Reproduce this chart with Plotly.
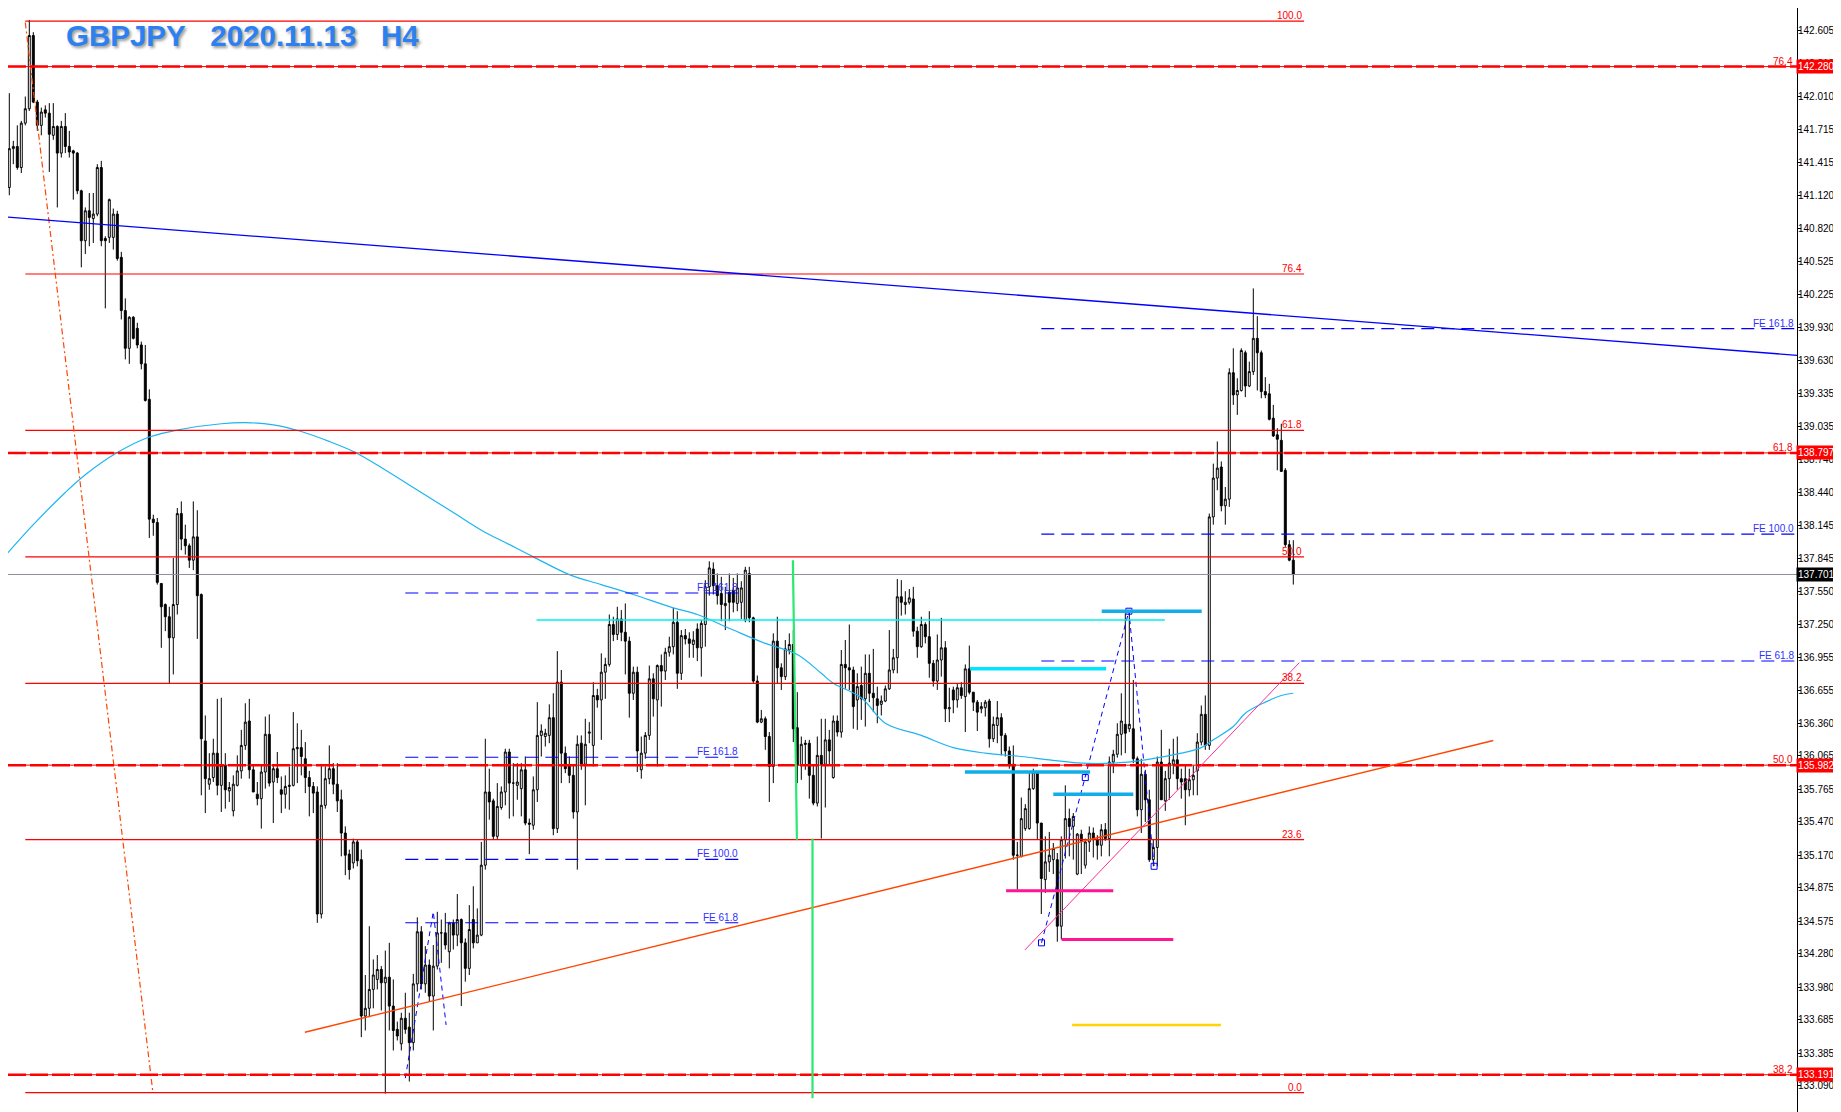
import plotly.graph_objects as go

# H4 bars, oldest -> newest
opens = [
    140.93, 140.96, 141.19, 141.54, 141.56, 141.37, 141.77, 141.90, 142.56, 141.96,
    141.75, 141.89, 141.86, 141.66, 141.74, 141.50, 141.74, 141.56, 141.52, 141.50,
    141.16, 140.71, 140.98, 140.91, 140.95, 141.37, 140.73, 140.74, 140.74, 140.95,
    140.56, 140.08, 139.74, 140.02, 139.92, 139.77, 139.60, 139.28, 138.20, 138.17,
    137.62, 137.43, 137.32, 137.13, 137.43, 138.25, 138.02, 137.96, 137.83, 138.04,
    137.52, 136.20, 135.81, 135.87, 136.09, 135.80, 135.98, 135.75, 135.57, 135.80,
    135.93, 136.16, 136.38, 135.94, 135.72, 135.68, 135.92, 136.26, 135.83, 135.95,
    135.76, 135.72, 135.79, 135.80, 136.13, 136.14, 136.04, 135.87, 135.79, 135.74,
    134.64, 135.62, 135.86, 135.95, 135.81, 135.67, 135.37, 135.18, 135.10, 135.29,
    135.13, 133.72, 133.79, 133.96, 134.05, 134.14, 134.02, 134.07, 133.81, 133.60,
    133.47, 133.70, 133.62, 133.48, 134.01, 134.48, 134.01, 134.18, 133.90, 134.17,
    134.47, 134.47, 134.30, 134.56, 134.45, 134.59, 134.38, 134.15, 134.59, 134.38,
    134.45, 135.08, 135.74, 135.66, 135.34, 135.60, 135.74, 136.10, 135.82, 135.80,
    135.77, 135.94, 135.46, 135.44, 135.76, 136.25, 136.24, 136.25, 136.41, 135.41,
    136.73, 136.09, 135.98, 135.89, 135.56, 136.18, 135.99, 136.27, 136.16, 136.61,
    136.57, 136.82, 136.89, 137.25, 137.16, 137.30, 137.18, 137.10, 136.63, 136.82,
    135.94, 136.09, 136.25, 136.76, 136.57, 136.88, 136.83, 137.00, 137.05, 137.27,
    136.81, 137.15, 137.12, 137.07, 137.21, 137.04, 137.25, 137.59, 137.75, 137.60,
    137.53, 137.42, 137.54, 137.56, 137.44, 137.45, 137.29, 137.71, 137.31, 136.74,
    136.37, 136.40, 136.24, 135.97, 137.10, 136.86, 136.78, 137.02, 137.07, 136.32,
    135.98, 136.18, 136.18, 135.89, 135.64, 136.07, 135.99, 136.21, 135.87, 136.38,
    136.28, 136.89, 136.86, 136.84, 136.57, 136.70, 136.58, 136.81, 136.63, 136.58,
    136.53, 136.56, 136.67, 136.84, 136.95, 137.50, 137.43, 137.45, 137.48, 137.19,
    137.05, 137.25, 137.14, 136.90, 136.74, 136.93, 137.04, 136.49, 136.66, 136.57,
    136.68, 136.60, 136.85, 136.64, 136.55, 136.49, 136.50, 136.56, 136.22, 136.34,
    136.41, 136.25, 136.11, 135.99, 135.17, 135.16, 135.41, 135.41, 135.77, 135.92,
    135.46, 134.95, 135.11, 135.13, 135.13, 134.53, 135.31, 135.50, 135.43, 135.00,
    135.36, 135.08, 135.29, 135.37, 135.31, 135.26, 135.40, 135.32, 136.01, 136.08,
    136.26, 136.35, 136.31, 136.31, 136.04, 135.58, 135.90, 135.67, 135.13, 135.24,
    136.01, 135.66, 135.86, 135.99, 136.03, 135.86, 135.86, 135.76, 135.85, 135.93,
    136.19, 136.44, 136.16, 138.22, 138.57, 138.67, 138.32, 138.38, 139.52, 139.32,
    139.36, 139.70, 139.40, 139.53, 139.83, 139.70, 139.35, 139.33, 139.11, 138.96,
    138.91, 138.64, 137.97, 137.83,
]
highs = [
    141.03, 141.30, 142.04, 141.61, 141.75, 141.79, 142.01, 142.70, 142.59, 141.98,
    141.91, 141.93, 141.95, 141.95, 141.75, 141.79, 141.86, 141.70, 141.53, 141.51,
    141.17, 141.01, 141.14, 141.14, 141.40, 141.43, 140.75, 141.09, 141.00, 140.98,
    140.61, 140.19, 140.03, 140.03, 139.97, 139.80, 139.77, 139.37, 138.24, 138.21,
    137.62, 137.44, 137.41, 137.85, 138.30, 138.36, 138.15, 137.98, 138.36, 138.28,
    137.53, 136.43, 136.09, 136.22, 136.58, 136.59, 136.09, 135.83, 135.89, 136.07,
    136.30, 136.54, 136.58, 135.98, 135.83, 135.98, 136.42, 136.44, 135.98, 136.10,
    135.88, 135.89, 135.97, 136.46, 136.36, 136.30, 136.19, 135.93, 135.83, 135.79,
    135.98, 135.97, 136.16, 136.00, 136.00, 135.76, 135.43, 135.22, 135.32, 135.31,
    135.22, 134.09, 134.53, 134.23, 134.27, 134.17, 134.31, 134.38, 134.05, 133.67,
    133.75, 133.93, 133.75, 134.10, 134.61, 134.53, 134.35, 134.23, 134.36, 134.66,
    134.59, 134.65, 134.57, 134.59, 134.82, 134.60, 134.42, 134.72, 134.89, 134.69,
    135.29, 136.22, 135.95, 135.68, 135.82, 135.79, 136.13, 136.13, 136.00, 136.00,
    136.00, 136.06, 135.50, 135.88, 136.55, 136.35, 136.31, 136.53, 136.63, 137.01,
    136.84, 136.15, 136.06, 135.98, 136.25, 136.25, 136.40, 136.37, 136.73, 136.67,
    136.99, 136.95, 137.34, 137.32, 137.41, 137.38, 137.44, 137.14, 136.87, 136.87,
    136.24, 136.28, 136.88, 136.81, 136.89, 136.98, 137.04, 137.14, 137.40, 137.37,
    137.20, 137.21, 137.18, 137.19, 137.26, 137.29, 137.65, 137.82, 137.81, 137.71,
    137.68, 137.59, 137.71, 137.67, 137.71, 137.64, 137.77, 137.77, 137.32, 136.79,
    136.48, 136.42, 136.28, 137.17, 137.32, 136.90, 137.11, 137.17, 137.20, 136.64,
    136.24, 136.21, 136.21, 135.99, 136.24, 136.40, 136.40, 136.30, 136.43, 136.43,
    137.02, 137.11, 137.25, 136.87, 136.81, 136.87, 136.98, 136.98, 137.03, 136.69,
    136.61, 136.70, 137.20, 137.03, 137.66, 137.65, 137.55, 137.57, 137.59, 137.23,
    137.32, 137.27, 137.37, 136.93, 137.16, 137.31, 137.10, 136.68, 136.69, 136.72,
    136.73, 136.89, 137.06, 136.64, 136.57, 136.55, 136.57, 136.58, 136.42, 136.56,
    136.45, 136.27, 136.15, 136.16, 135.29, 135.69, 135.63, 135.91, 135.95, 135.93,
    135.46, 135.34, 135.38, 135.28, 135.19, 135.34, 135.80, 135.59, 135.55, 135.37,
    135.40, 135.32, 135.43, 135.42, 135.35, 135.45, 135.46, 136.06, 136.12, 136.36,
    136.63, 137.35, 137.38, 136.75, 136.06, 136.04, 135.94, 135.76, 135.31, 136.06,
    136.30, 135.93, 136.13, 136.22, 136.24, 135.95, 135.98, 135.95, 135.98, 136.27,
    136.52, 136.61, 138.25, 138.70, 138.90, 138.72, 138.49, 139.56, 139.74, 139.47,
    139.74, 139.72, 139.62, 140.28, 140.03, 139.72, 139.48, 139.42, 139.23, 139.02,
    139.06, 138.66, 138.01, 138.01,
]
lows = [
    140.72, 140.95, 141.12, 141.40, 141.35, 141.32, 141.75, 141.88, 141.95, 141.70,
    141.66, 141.82, 141.33, 141.62, 141.01, 141.46, 141.50, 141.46, 141.08, 141.13,
    140.47, 140.59, 140.66, 140.69, 140.93, 140.66, 140.10, 140.69, 140.63, 140.53,
    140.00, 139.64, 139.60, 139.82, 139.74, 139.55, 139.26, 138.03, 138.05, 137.61,
    137.04, 137.19, 136.72, 136.80, 137.34, 137.92, 137.88, 137.76, 137.74, 137.12,
    135.71, 135.55, 135.76, 135.83, 135.71, 135.56, 135.59, 135.65, 135.52, 135.79,
    135.86, 136.12, 135.86, 135.74, 135.62, 135.41, 135.77, 135.79, 135.46, 135.82,
    135.55, 135.59, 135.58, 135.79, 135.82, 135.89, 135.73, 135.52, 135.55, 134.56,
    134.60, 135.59, 135.81, 135.72, 135.56, 135.16, 134.99, 134.95, 135.05, 135.07,
    133.53, 133.59, 133.71, 133.79, 133.96, 133.77, 133.02, 133.59, 133.41, 133.50,
    133.41, 133.56, 133.13, 133.41, 133.94, 133.96, 133.93, 133.85, 133.59, 134.14,
    134.20, 134.32, 134.15, 134.32, 134.35, 133.81, 134.03, 134.09, 134.33, 134.38,
    134.44, 135.04, 135.49, 135.31, 135.31, 135.58, 135.62, 135.50, 135.52, 135.67,
    135.52, 135.44, 135.18, 135.40, 135.65, 136.06, 136.15, 136.18, 135.35, 135.37,
    135.82, 135.91, 135.82, 135.50, 135.04, 135.94, 135.62, 136.18, 135.97, 136.50,
    136.21, 136.58, 136.87, 137.10, 137.11, 137.10, 136.80, 136.41, 136.57, 135.92,
    135.86, 136.04, 136.21, 136.42, 135.97, 136.51, 136.75, 136.96, 136.98, 136.67,
    136.75, 137.07, 136.95, 136.95, 136.92, 136.78, 137.05, 137.51, 137.52, 137.43,
    137.28, 137.20, 137.28, 137.36, 137.37, 137.30, 137.27, 137.27, 136.72, 136.36,
    136.36, 136.12, 135.65, 135.82, 136.72, 136.66, 136.75, 136.98, 136.19, 135.82,
    135.85, 135.94, 135.68, 135.62, 135.61, 135.32, 135.60, 135.98, 135.86, 136.24,
    136.23, 136.67, 136.66, 136.31, 136.30, 136.39, 136.33, 136.55, 136.46, 136.36,
    136.43, 136.55, 136.66, 136.81, 136.81, 137.33, 137.34, 137.43, 137.14, 136.95,
    137.04, 137.08, 136.77, 136.69, 136.66, 136.78, 136.37, 136.37, 136.45, 136.50,
    136.58, 136.28, 136.62, 136.47, 136.29, 136.45, 136.42, 136.14, 136.19, 136.18,
    136.07, 136.06, 135.95, 135.13, 134.86, 135.15, 135.39, 135.40, 135.76, 135.31,
    134.64, 134.83, 135.02, 135.00, 134.39, 134.41, 135.14, 135.16, 135.13, 134.99,
    135.00, 135.05, 135.20, 135.15, 135.13, 135.16, 135.30, 135.16, 135.91, 136.05,
    136.07, 136.09, 136.28, 136.00, 135.52, 135.37, 135.47, 135.11, 135.07, 135.07,
    135.67, 135.57, 135.67, 135.90, 135.76, 135.68, 135.44, 135.70, 135.71, 135.71,
    136.16, 136.12, 136.12, 138.15, 138.46, 138.27, 138.15, 138.31, 139.23, 139.14,
    139.35, 139.30, 139.39, 139.50, 139.36, 139.29, 139.29, 139.09, 138.94, 138.64,
    138.63, 137.95, 137.82, 137.61,
]
closes = [
    140.96, 141.19, 141.54, 141.56, 141.37, 141.77, 141.90, 142.56, 141.96, 141.75,
    141.87, 141.86, 141.67, 141.74, 141.50, 141.74, 141.56, 141.51, 141.50, 141.16,
    140.71, 140.98, 140.92, 140.95, 141.37, 140.71, 140.71, 141.08, 140.95, 140.55,
    140.08, 139.74, 140.02, 139.83, 139.77, 139.60, 139.27, 138.20, 138.17, 137.63,
    137.41, 137.32, 137.13, 137.43, 138.25, 138.02, 137.96, 137.83, 138.04, 137.51,
    136.22, 135.86, 135.86, 136.09, 135.80, 135.98, 135.76, 135.78, 135.81, 135.93,
    136.16, 136.37, 135.94, 135.74, 135.68, 135.92, 136.26, 135.82, 135.95, 135.87,
    135.72, 135.79, 135.80, 136.13, 136.14, 136.06, 135.87, 135.79, 135.73, 134.64,
    135.62, 135.86, 135.95, 135.81, 135.66, 135.37, 135.17, 135.04, 135.29, 135.12,
    133.72, 133.79, 133.96, 134.09, 134.14, 134.02, 134.07, 133.81, 133.59, 133.54,
    133.70, 133.60, 133.48, 134.01, 134.48, 134.01, 134.18, 133.90, 134.17, 134.47,
    134.47, 134.36, 134.56, 134.45, 134.59, 134.38, 134.15, 134.50, 134.38, 134.45,
    135.08, 135.74, 135.65, 135.34, 135.61, 135.74, 136.10, 135.82, 135.82, 135.83,
    135.94, 135.46, 135.45, 135.76, 136.25, 136.29, 136.27, 136.41, 135.41, 136.73,
    136.09, 135.95, 135.89, 135.56, 136.17, 135.99, 136.17, 136.28, 136.61, 136.57,
    136.82, 136.89, 137.25, 137.16, 137.30, 137.18, 137.10, 136.63, 136.82, 136.11,
    136.09, 136.25, 136.76, 136.58, 136.88, 136.83, 137.00, 137.05, 137.27, 136.81,
    137.15, 137.12, 137.08, 137.11, 137.04, 137.26, 137.59, 137.76, 137.60, 137.51,
    137.43, 137.44, 137.45, 137.45, 137.58, 137.58, 137.74, 137.31, 136.74, 136.37,
    136.40, 136.24, 135.97, 137.10, 136.86, 136.78, 137.03, 137.07, 136.31, 135.98,
    136.17, 136.17, 135.89, 135.64, 136.07, 135.99, 136.21, 136.11, 136.38, 136.28,
    136.89, 136.86, 136.84, 136.51, 136.69, 136.58, 136.81, 136.63, 136.59, 136.52,
    136.56, 136.67, 136.84, 136.95, 137.50, 137.45, 137.45, 137.49, 137.19, 137.05,
    137.25, 137.14, 136.90, 136.74, 136.93, 137.04, 136.49, 136.50, 136.57, 136.68,
    136.61, 136.85, 136.64, 136.55, 136.46, 136.51, 136.55, 136.22, 136.35, 136.41,
    136.25, 136.11, 135.99, 135.17, 135.17, 135.50, 135.59, 135.77, 135.92, 135.46,
    134.96, 135.11, 135.17, 135.23, 134.53, 135.31, 135.50, 135.43, 135.52, 135.36,
    135.30, 135.29, 135.37, 135.31, 135.26, 135.40, 135.32, 136.01, 136.08, 136.26,
    136.38, 136.27, 136.35, 136.04, 135.58, 135.90, 135.67, 135.13, 135.24, 136.01,
    135.67, 135.86, 136.00, 136.03, 135.86, 135.83, 135.76, 135.85, 135.89, 136.19,
    136.44, 136.16, 138.22, 138.57, 138.66, 138.32, 138.38, 139.52, 139.32, 139.36,
    139.72, 139.40, 139.53, 139.83, 139.70, 139.35, 139.32, 139.10, 138.95, 138.92,
    138.63, 137.97, 137.83, 137.70,
]
bars = list(range(len(closes)))

# moving average, sampled along the curve
ma_bar = [0, 8, 16, 21, 29, 37, 45, 55, 61, 68, 75, 82, 88, 92, 105, 113, 121, 126,
          133, 142, 150, 158, 168, 174, 183, 191, 199, 205, 208, 215, 221, 230, 238,
          246, 255, 262, 270, 278, 286, 295, 300, 303, 308, 311, 316, 320, 323]
ma_val = [137.83, 138.15, 138.44, 138.60, 138.80, 138.94, 139.01, 139.06, 139.07,
          139.05, 138.99, 138.90, 138.81, 138.73, 138.44, 138.26, 138.08, 137.99,
          137.86, 137.70, 137.61, 137.52, 137.40, 137.34, 137.20, 137.08, 136.98,
          136.81, 136.72, 136.59, 136.36, 136.25, 136.14, 136.09, 136.06, 136.03,
          136.00, 136.00, 136.03, 136.09, 136.14, 136.21, 136.33, 136.45, 136.55,
          136.61, 136.63]

# fibonacci retracement (thin)
fib_labels = ["100.0", "76.4", "61.8", "50.0", "38.2", "23.6", "0.0"]
fib_prices = [142.69, 140.41, 139.00, 137.86, 136.72, 135.31, 133.03]
fib_bars = [6.0, 325.7]

# wide fibonacci (thick dashed, whole chart)
big_labels = ["76.4", "61.8", "50.0", "38.2"]
big_prices = [142.280, 138.797, 135.982, 133.191]

# fibonacci expansions
fe_r_labels = ["FE 161.8", "FE 100.0", "FE 61.8"]
fe_r_prices = [139.917, 138.064, 136.921]
fe_r_bars = [260.0, 448.9]
fe_l_labels = ["FE 161.8", "FE 161.8", "FE 100.0", "FE 61.8"]
fe_l_prices = [137.534, 136.053, 135.133, 134.561]
fe_l_bars = [101.0, 184.7]

bid = 137.701

# trendlines  (bar, price) pairs
blue_tl = [(-0.325, 140.928), (448.925, 139.677)]
orange_tl = [(75.9, 133.574), (373.0, 136.204)]
fib_diag = [(6.0, 142.677), (37.9, 133.03)]
pink_tl = [(255.9, 134.316), (324.5, 136.906)]

# horizontal segments: (bar0, bar1, price)
cyan_thin = [(133.8, 290.9, 137.29)]
cyan_bright = [(242.2, 276.2, 136.85)]
sky_thick = [(240.9, 272.2, 135.92), (263.0, 283.0, 135.72), (275.1, 300.1, 137.37)]
pink_thick = [(251.2, 278.0, 134.85), (265.1, 293.0, 134.41)]
gold_thick = [(267.7, 304.9, 133.64)]

# vertical-ish green lines
green_a = [(197.9, 137.83), (198.9, 135.31)]
green_b = [(202.8, 135.32), (202.8, 132.98)]

# zigzag patterns
zz_r_bar = [260.05, 271.0, 281.9, 288.2]
zz_r_val = [134.38, 135.87, 137.37, 135.07]
zz_l_bar = [101.0, 108.0, 111.2]
zz_l_val = [133.16, 134.66, 133.64]

y_ticks = [133.090, 133.385, 133.685, 133.980, 134.280, 134.575, 134.875, 135.170,
           135.470, 135.765, 136.065, 136.360, 136.655, 136.955, 137.250, 137.550,
           137.845, 138.145, 138.440, 138.740, 139.035, 139.335, 139.630, 139.930,
           140.225, 140.525, 140.820, 141.120, 141.415, 141.715, 142.010, 142.310,
           142.605]

RED = "#FF0000"
BLUE = "#0000FF"
LBL_FONT = "Liberation Sans"

# page body has an 8px margin, so the figure is 8px smaller than the window
FIG_W, FIG_H = 1833, 1104

fig = go.Figure()

fig.add_trace(go.Candlestick(
    x=bars, open=opens, high=highs, low=lows, close=closes,
    increasing=dict(line=dict(color="black", width=1), fillcolor="white"),
    decreasing=dict(line=dict(color="black", width=1), fillcolor="black"),
    whiskerwidth=0, showlegend=False, hoverinfo="skip",
))

# moving average
fig.add_trace(go.Scatter(
    x=ma_bar, y=ma_val, mode="lines",
    line=dict(color="#1CB5F0", width=1.2, shape="spline", smoothing=1.0),
    showlegend=False, hoverinfo="skip",
))

# zigzags
fig.add_trace(go.Scatter(
    x=zz_r_bar, y=zz_r_val, mode="lines+markers",
    line=dict(color=BLUE, width=1, dash="5px,4px"),
    marker=dict(symbol="square-open", size=6, color=BLUE, line=dict(width=1)),
    showlegend=False, hoverinfo="skip",
))
fig.add_trace(go.Scatter(
    x=zz_l_bar, y=zz_l_val, mode="lines",
    line=dict(color=BLUE, width=1, dash="5px,4px"),
    showlegend=False, hoverinfo="skip",
))

shapes = []


def hline(x0, x1, y, color, width=1, dash="solid", xref="x"):
    shapes.append(dict(type="line", xref=xref, yref="y", x0=x0, x1=x1, y0=y, y1=y,
                       line=dict(color=color, width=width, dash=dash)))


def seg(p0, p1, color, width=1, dash="solid"):
    shapes.append(dict(type="line", xref="x", yref="y", x0=p0[0], y0=p0[1],
                       x1=p1[0], y1=p1[1], line=dict(color=color, width=width, dash=dash)))


annots = []


def label(x, y, text, color, xref="x", anchor="right"):
    annots.append(dict(x=x, y=y, xref=xref, yref="y", text=text, showarrow=False,
                       xanchor=anchor, yanchor="bottom", yshift=-2,
                       font=dict(family=LBL_FONT, size=10, color=color)))


# thin fib
for lab, p in zip(fib_labels, fib_prices):
    hline(fib_bars[0], fib_bars[1], p, RED, 1.2)
    label(fib_bars[1], p, lab, RED)
seg(*fib_diag, "#FF4500", 1.2, "6px,3px,2px,3px")

# wide fib
for lab, p in zip(big_labels, big_prices):
    hline(0, 1, p, RED, 1, xref="paper")
    hline(0, 1, p, RED, 2.5, "18px,4px", xref="paper")
    label(0.999, p, lab, RED, xref="paper")

# expansions
for lab, p in zip(fe_r_labels, fe_r_prices):
    hline(fe_r_bars[0], fe_r_bars[1], p, BLUE, 1.2, "13px,7px")
    label(448.6, p, lab, "#3030FF")
for lab, p in zip(fe_l_labels, fe_l_prices):
    hline(fe_l_bars[0], fe_l_bars[1], p, BLUE, 1.2, "13px,7px")
    label(fe_l_bars[1], p, lab, "#3030FF")

# bid line
hline(0, 1, bid, "#8A9099", 1, xref="paper")

# trendlines
seg(*blue_tl, BLUE, 1.3)
seg(*orange_tl, "#FF4500", 1.4)
seg(*pink_tl, "#FF2E93", 1)

for b0, b1, p in cyan_thin:
    hline(b0, b1, p, "#00F0F0", 1.5)
for b0, b1, p in cyan_bright:
    hline(b0, b1, p, "#00E5FF", 3.5)
for b0, b1, p in sky_thick:
    hline(b0, b1, p, "#12ACE8", 3.5)
for b0, b1, p in pink_thick:
    hline(b0, b1, p, "#FF1493", 3)
for b0, b1, p in gold_thick:
    hline(b0, b1, p, "#FFD400", 2.5)

seg(*green_a, "#2BE870", 2.2)
seg(*green_b, "#2BE870", 2.2)

# title
annots.append(dict(
    xref="paper", yref="paper", x=56 / 1789, y=1 - 27 / FIG_H,
    xanchor="left", yanchor="middle", showarrow=False,
    text="GBPJPY\u00a0\u00a0\u00a02020.11.13\u00a0\u00a0\u00a0H4",
    font=dict(family="Liberation Sans", size=29.5, color="#2B80F2", weight="bold",
              shadow="2px 2px 3px #9a9a9a"),
))

# highlighted prices on the axis
price_tags = [(142.280, RED), (138.797, RED), (bid, "black"), (135.982, RED), (133.191, RED)]
for p, bg in price_tags:
    annots.append(dict(
        xref="paper", yref="y", x=1.0, y=p, xshift=-1, xanchor="left", yanchor="middle",
        text=f"{p:.3f}", showarrow=False, bgcolor=bg, borderpad=1,
        font=dict(family=LBL_FONT, size=10, color="white"),
    ))

fig.update_layout(
    width=FIG_W, height=FIG_H,
    margin=dict(l=0, r=44, t=0, b=0, pad=0),
    paper_bgcolor="white", plot_bgcolor="white",
    showlegend=False,
    shapes=shapes, annotations=annots,
    xaxis=dict(range=[1.675, 448.925], showgrid=False, zeroline=False,
               showticklabels=False, ticks="", rangeslider=dict(visible=False),
               fixedrange=True),
    yaxis=dict(range=[132.855, 142.808], side="right", showgrid=False, zeroline=False,
               showline=True, linecolor="black", linewidth=1,
               ticks="outside", ticklen=3, tickcolor="black", ticklabelstandoff=-5,
               tickvals=y_ticks, ticktext=[f"{v:.3f}" for v in y_ticks],
               tickfont=dict(family=LBL_FONT, size=10, color="black"),
               automargin=False, fixedrange=True),
)

fig.write_html("out.html")
